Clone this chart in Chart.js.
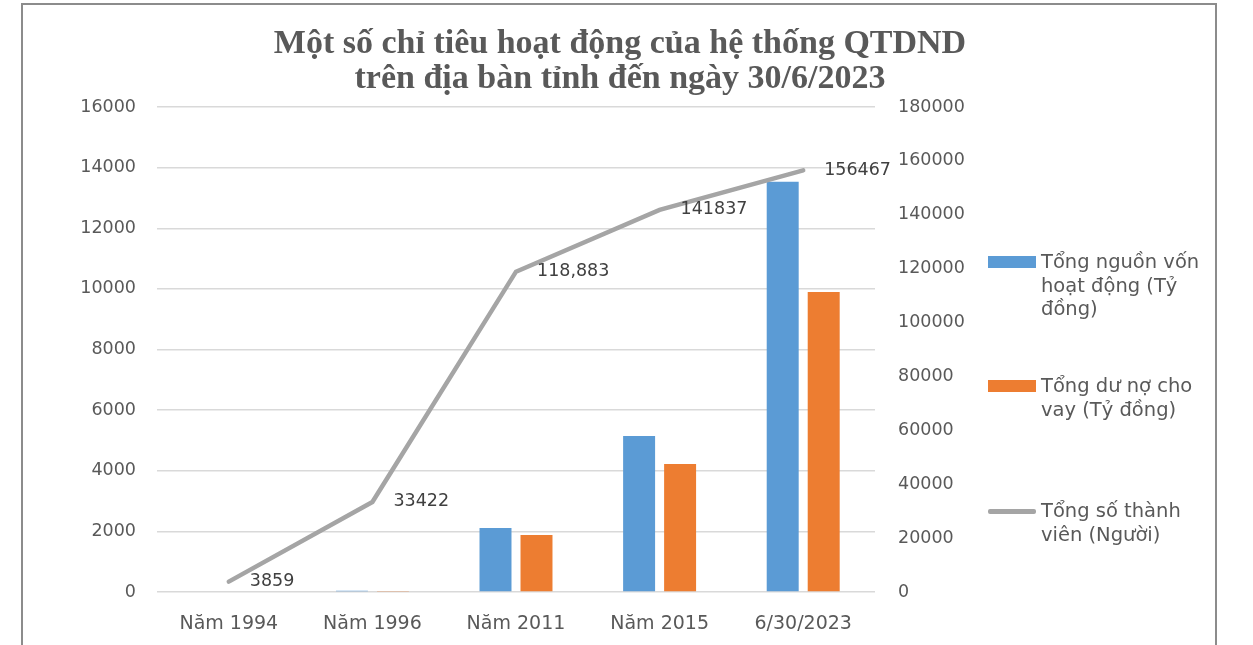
<!DOCTYPE html>
<html lang="vi">

<head>
  <meta charset="UTF-8">
  <script src="https://cdn.jsdelivr.net/npm/chart.js"></script>
  <title>QTDND</title>
  <style>
    html, body {
      margin: 0;
      padding: 0;
      background: #fff;
      overflow: hidden;
    }

    #wrap {
      position: relative;
      width: 1253px;
      height: 645px;
    }

    #frame {
      position: absolute;
      left: 21px;
      top: 3px;
      width: 1192px;
      height: 700px;
      border: 2px solid #8c8c8c;
      border-bottom: none;
      pointer-events: none;
    }

    #title {
      position: absolute;
      left: 0;
      top: 24px;
      width: 1240px;
      text-align: center;
      font-family: "Liberation Serif", serif;
      font-weight: bold;
      font-size: 34px;
      line-height: 35px;
      color: #595959;
    }

    #legend {
      position: absolute;
      left: 986px;
      top: 0;
      font-family: "DejaVu Sans", sans-serif;
      font-size: 19.5px;
      line-height: 23.5px;
      color: #595959;
    }

    .item {
      position: absolute;
      left: 0;
      width: 240px;
    }

    .swatch {
      position: absolute;
      left: 2px;
      width: 48px;
    }

    .txt {
      position: absolute;
      left: 55px;
      width: 172px;
    }
  </style>
</head>

<body>
  <div id="wrap">
    <canvas id="myChart" width="1253" height="645"></canvas>
    <div id="frame"></div>
    <div id="title">Một số chỉ tiêu hoạt động của hệ thống QTDND<br>trên địa bàn tỉnh đến ngày 30/6/2023</div>
    <div id="legend"></div>
  </div>

  <script>
    // du lieu
    const categories = ['Năm 1994', 'Năm 1996', 'Năm 2011', 'Năm 2015', '6/30/2023'];
    const nguonVon = [0, 40, 2110, 5150, 13530];      // Tỷ đồng
    const duNo = [0, 35, 1880, 4220, 9900];            // Tỷ đồng
    const thanhVien = [3859, 33422, 118883, 141837, 156467]; // Người
    const thanhVienLabels = ['3859', '33422', '118,883', '141837', '156467'];
    const leftTicks = [0, 2000, 4000, 6000, 8000, 10000, 12000, 14000, 16000];
    const rightTicks = [0, 20000, 40000, 60000, 80000, 100000, 120000, 140000, 160000, 180000];
    const seriesNames = ['Tổng nguồn vốn hoạt động (Tỷ đồng)', 'Tổng dư nợ cho vay (Tỷ đồng)', 'Tổng số thành viên (Người)'];
    const colors = ['#5b9bd5', '#ed7d31', '#a5a5a5'];

    const tickFont = { family: '"DejaVu Sans"', size: 17.5 };

    // nhan so lieu cho duong
    const lineLabels = {
      id: 'lineLabels',
      afterDatasetsDraw(chart) {
        const meta = chart.getDatasetMeta(2);
        const ctx = chart.ctx;
        ctx.save();
        ctx.font = '17.5px "DejaVu Sans"';
        ctx.fillStyle = '#404040';
        ctx.textAlign = 'left';
        ctx.textBaseline = 'middle';
        meta.data.forEach(function (pt, i) {
          ctx.fillText(thanhVienLabels[i], pt.x + 21, pt.y);
        });
        ctx.restore();
      }
    };

    const ctx = document.getElementById('myChart');

    new Chart(ctx, {
      type: 'bar',
      data: {
        labels: categories,
        datasets: [{
          label: seriesNames[0],
          data: nguonVon,
          backgroundColor: colors[0],
          yAxisID: 'y',
          categoryPercentage: 0.571,
          barPercentage: 0.78,
          order: 1
        }, {
          label: seriesNames[1],
          data: duNo,
          backgroundColor: colors[1],
          yAxisID: 'y',
          categoryPercentage: 0.571,
          barPercentage: 0.78,
          order: 1
        }, {
          type: 'line',
          label: seriesNames[2],
          data: thanhVien,
          borderColor: colors[2],
          borderWidth: 4.5,
          borderCapStyle: 'round',
          pointRadius: 0,
          tension: 0,
          yAxisID: 'y1',
          order: 0
        }]
      },
      options: {
        responsive: false,
        animation: false,
        layout: {
          padding: { left: 0, right: 278, top: 107, bottom: 13 }
        },
        plugins: {
          legend: { display: false },
          tooltip: { enabled: false },
          title: { display: false }
        },
        scales: {
          x: {
            grid: { display: false },
            border: { display: false },
            ticks: { color: '#595959', font: { family: '"DejaVu Sans"', size: 19 }, padding: 13 },
            afterFit: function (s) { s.height = 40; }
          },
          y: {
            position: 'left',
            min: 0,
            max: 16000,
            afterBuildTicks: function (s) { s.ticks = leftTicks.map(v => ({ value: v })); },
            grid: { color: '#d9d9d9', lineWidth: 1.5, drawTicks: false },
            border: { display: false },
            ticks: { color: '#595959', font: tickFont, padding: 21, callback: v => String(v) },
            afterFit: function (s) { s.width = 157; }
          },
          y1: {
            position: 'right',
            min: 0,
            max: 180000,
            afterBuildTicks: function (s) { s.ticks = rightTicks.map(v => ({ value: v })); },
            grid: { display: false, drawTicks: false },
            border: { display: false },
            ticks: { color: '#595959', font: tickFont, padding: 23, callback: v => String(v) },
            afterFit: function (s) { s.width = 100; }
          }
        }
      },
      plugins: [lineLabels]
    });

    // chu giai (nhieu dong)
    const legendTops = [250, 374, 499];
    const legend = document.getElementById('legend');
    seriesNames.forEach(function (name, i) {
      const item = document.createElement('div');
      item.className = 'item';
      item.style.top = legendTops[i] + 'px';
      const sw = document.createElement('div');
      sw.className = 'swatch';
      if (i < 2) {
        sw.style.top = '6px';
        sw.style.height = '12px';
      } else {
        sw.style.top = '10px';
        sw.style.height = '4.5px';
        sw.style.borderRadius = '2px';
      }
      sw.style.background = colors[i];
      const t = document.createElement('div');
      t.className = 'txt';
      t.textContent = name;
      item.appendChild(sw);
      item.appendChild(t);
      legend.appendChild(item);
    });
  </script>
</body>

</html>
